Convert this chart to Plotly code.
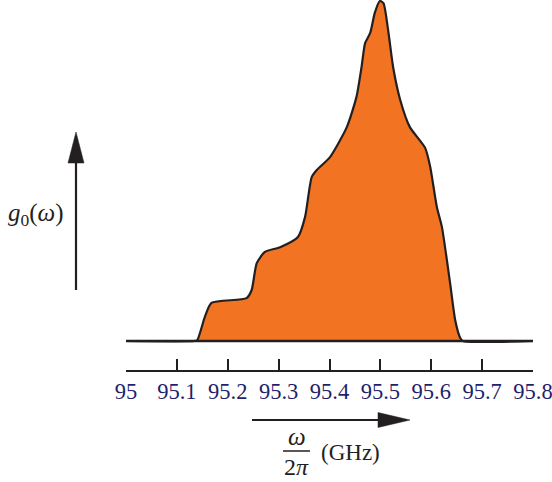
import plotly.graph_objects as go

# Data (GHz, normalized gain)
freq = [95.00, 95.135, 95.140, 95.155, 95.168, 95.237, 95.247, 95.257, 95.273, 95.303,
        95.338, 95.352, 95.365, 95.375, 95.401, 95.434, 95.453, 95.463, 95.470,
        95.480, 95.489, 95.499, 95.506, 95.516, 95.525, 95.539, 95.558, 95.588,
        95.598, 95.611, 95.621, 95.637, 95.647, 95.657, 95.662, 95.80]
gain = [0.0, 0.0, 0.002, 0.071, 0.112, 0.126, 0.150, 0.229, 0.262, 0.276,
        0.306, 0.365, 0.482, 0.503, 0.541, 0.629, 0.718, 0.806, 0.876,
        0.906, 0.965, 1.0, 0.994, 0.906, 0.806, 0.709, 0.629, 0.568,
        0.512, 0.394, 0.335, 0.171, 0.062, 0.009, 0.0, 0.0]
tick_vals = [95, 95.1, 95.2, 95.3, 95.4, 95.5, 95.6, 95.7, 95.8]
tick_text = ["95", "95.1", "95.2", "95.3", "95.4", "95.5", "95.6", "95.7", "95.8"]
base_x = [95.0, 95.8]
base_y = [0.0, 0.0]

W, H = 552, 482
L, R, T, B = 126, 19, 0, 112
PW, PH = W - L - R, H - T - B

def px(x):
    return (x - L) / PW

def py(y):
    return 1 - (y - T) / PH

ORANGE = "#F27423"
DARK = "#231F20"
NAVY = "#1F1F6B"
SERIF = "Liberation Serif"

fig = go.Figure()
fig.add_trace(go.Scatter(x=freq, y=gain, mode="lines", line=dict(shape="spline", smoothing=0.6, color=DARK, width=2.2),
                         fill="tozeroy", fillcolor=ORANGE, hoverinfo="skip", showlegend=False))
fig.add_trace(go.Scatter(x=base_x, y=base_y, mode="lines", line=dict(color=DARK, width=2.5),
                         hoverinfo="skip", showlegend=False))

fig.update_layout(
    width=W, height=H, margin=dict(l=L, r=R, t=T, b=B),
    paper_bgcolor="white", plot_bgcolor="white",
    xaxis=dict(range=[95, 95.8], tickvals=tick_vals, ticktext=tick_text, ticks="inside", ticklen=11,
               tickwidth=1.8, tickcolor=DARK, showline=True, linecolor=DARK, linewidth=2,
               showgrid=False, zeroline=False, tickfont=dict(family=SERIF, size=22.5, color=NAVY),
               ticklabeloverflow="allow", automargin=False, fixedrange=True),
    yaxis=dict(range=[341/340 - 370/340, 341/340], visible=False, showgrid=False, zeroline=False,
               fixedrange=True),
)

shapes = []
# vertical arrow
shapes.append(dict(type="line", xref="paper", yref="paper", x0=px(76), x1=px(76), y0=py(290), y1=py(158),
                   line=dict(color=DARK, width=2.2)))
shapes.append(dict(type="path", xref="paper", yref="paper",
                   path=f"M {px(68)} {py(163)} L {px(84)} {py(163)} L {px(76)} {py(132)} Z",
                   fillcolor=DARK, line=dict(color=DARK, width=0.5)))
# horizontal arrow
shapes.append(dict(type="line", xref="paper", yref="paper", x0=px(252), x1=px(382), y0=py(420), y1=py(420),
                   line=dict(color=DARK, width=2.2)))
shapes.append(dict(type="path", xref="paper", yref="paper",
                   path=f"M {px(378)} {py(412.5)} L {px(378)} {py(427.5)} L {px(410)} {py(420)} Z",
                   fillcolor=DARK, line=dict(color=DARK, width=0.5)))
# fraction bar
shapes.append(dict(type="line", xref="paper", yref="paper", x0=px(283), x1=px(310), y0=py(451), y1=py(451),
                   line=dict(color=DARK, width=1.5)))
fig.update_layout(shapes=shapes)

ann = [
    dict(text="<i>g</i><sub>0</sub>(<i>ω</i>)", x=px(36), y=py(214), size=25),
    dict(text="<i>ω</i>", x=px(297), y=py(436), size=25),
    dict(text="2<i>π</i>", x=px(296), y=py(467), size=24),
    dict(text="(GHz)", x=px(350), y=py(452), size=23),
]
fig.update_layout(annotations=[
    dict(text=a["text"], x=a["x"], y=a["y"], xref="paper", yref="paper", showarrow=False,
         xanchor="center", yanchor="middle", font=dict(family=SERIF, size=a["size"], color=DARK))
    for a in ann
])

fig.write_html("out.html", config={"displayModeBar": False},
               post_script="document.body.style.margin='0';document.body.style.padding='0';")
